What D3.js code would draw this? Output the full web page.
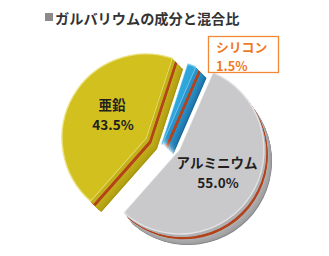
<!DOCTYPE html>
<html>
<head>
<meta charset="utf-8">
<script src="https://cdnjs.cloudflare.com/ajax/libs/d3/7.8.5/d3.min.js"></script>
<style>
  html, body { margin: 0; padding: 0; background: #ffffff; }
  svg { display: block; }
  text { font-family: "Noto Sans CJK JP", "Noto Sans", sans-serif; font-weight: 700; }
</style>
</head>
<body>
<div id="chart"></div>
<script>
// ---- data ----
const title = "ガルバリウムの成分と混合比";
const categories = ["アルミニウム", "亜鉛", "シリコン"];
const values = [55.0, 43.5, 1.5];
const valueLabels = ["55.0%", "43.5%", "1.5%"];

// ---- layout / style ----
const W = 329, H = 256;
const radius = 84;
const startRot = 23.5 * Math.PI / 180;
const baseCenter = [158, 141];
const explode = [[22, 9], [-12, -3], [4, 3]];     // per-slice explode offsets
const depth = [[8, 11], [11, 11], [11, 11]];      // per-slice extrusion vector
const faceColors = ["#c9c9cb", "#d2c01f", "#2ea6dc"];
const sideNear = ["#b1b1b3", "#c3b01a", "#2b93ca"];
const sideFar = ["#9f9fa1", "#b3a114", "#2078ad"];
const sideEdge = ["#8a8a8c", "#a69610", "#1c6a9a"];
const highlight = ["#e2e2e4", "#ebe282", "#80ccee"];
const rimColor = "#b4431b";

const svg = d3.select("#chart").append("svg")
  .attr("width", W).attr("height", H);

// title
svg.append("rect").attr("x", 45).attr("y", 13).attr("width", 8).attr("height", 8).attr("fill", "#8c8a8a");
svg.append("text").attr("x", 55).attr("y", 23.5)
  .attr("font-size", 14.2).attr("fill", "#333333").text(title);

const pie = d3.pie().sort(null).startAngle(startRot).endAngle(startRot + 2 * Math.PI);
const arcs = pie(values);
const arcGen = d3.arc().innerRadius(0).outerRadius(radius);
const arcInset = d3.arc().innerRadius(0).outerRadius(radius - 1.5);

const drawOrder = [1, 2, 0];
drawOrder.forEach(i => {
  const a = arcs[i];
  const cx = baseCenter[0] + explode[i][0];
  const cy = baseCenter[1] + explode[i][1];
  const g = svg.append("g").attr("transform", `translate(${cx},${cy})`);
  const sideScale = d3.scaleLinear().domain([0.48, 0.9]).range([sideNear[i], sideFar[i]]).clamp(true);
  const steps = 36;
  for (let s = steps; s >= 1; s--) {
    const t = s / steps;
    let col;
    if (t > 0.94) col = sideEdge[i];
    else if (t > 0.30 && t <= 0.48) col = rimColor;
    else if (t <= 0.30) col = sideNear[i];
    else col = sideScale(t);
    g.append("path")
      .attr("d", arcGen(a))
      .attr("transform", `translate(${depth[i][0] * t},${depth[i][1] * t})`)
      .attr("fill", col);
  }
  g.append("path")
    .attr("d", arcGen(a))
    .attr("fill", faceColors[i])
    .attr("stroke", highlight[i])
    .attr("stroke-width", 1.4)
    .attr("stroke-linejoin", "round");
  g.append("path")
    .attr("d", arcInset(a))
    .attr("fill", faceColors[i]);
});

// labels
const labelPos = [[217, 168], [112, 110]];
[0, 1].forEach(i => {
  svg.append("text").attr("text-anchor", "middle")
    .attr("font-size", 13.5).attr("fill", "#231f1f")
    .attr("x", labelPos[i][0]).attr("y", labelPos[i][1]).text(categories[i]);
  svg.append("text").attr("text-anchor", "middle")
    .attr("font-size", 13.5).attr("fill", "#231f1f")
    .attr("x", labelPos[i][0] + 1).attr("y", labelPos[i][1] + 19.7).text(valueLabels[i]);
});

// silicon callout box
svg.append("rect").attr("x", 208.5).attr("y", 36.5).attr("width", 70).attr("height", 36)
  .attr("fill", "#ffffff").attr("stroke", "#f08a3a").attr("stroke-width", 1.3);
svg.append("text").attr("font-size", 12.8).attr("fill", "#f07a1c")
  .attr("x", 216).attr("y", 52).text(categories[2]);
svg.append("text").attr("font-size", 12.8).attr("fill", "#f07a1c")
  .attr("x", 216).attr("y", 70.6).text(valueLabels[2]);
</script>
</body>
</html>
